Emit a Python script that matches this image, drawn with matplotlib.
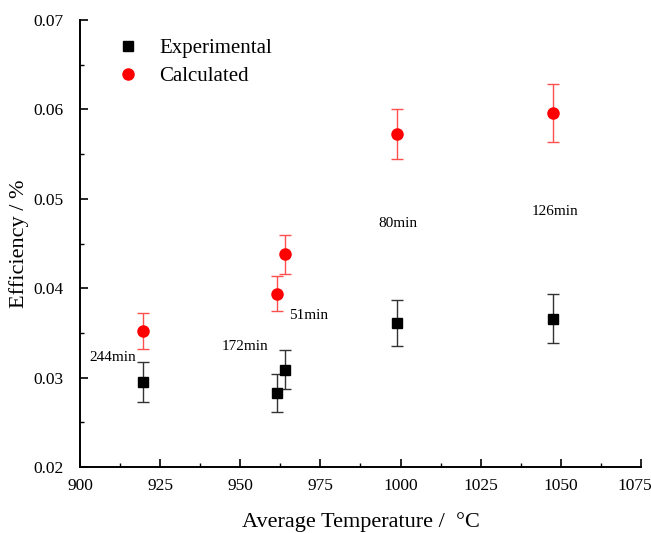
import matplotlib
matplotlib.use("Agg")
import matplotlib.pyplot as plt
import matplotlib.transforms as mtransforms
from matplotlib.ticker import MultipleLocator

plt.rcParams['font.family'] = ['Liberation Serif', 'DejaVu Serif']

exp_x = [919.8, 961.3, 963.9, 999.0, 1047.4]
exp_y = [0.0295, 0.0283, 0.0309, 0.0361, 0.0366]
exp_err = [0.0022, 0.0021, 0.0022, 0.0026, 0.0027]

calc_x = [919.8, 961.3, 963.9, 999.0, 1047.4]
calc_y = [0.0352, 0.0394, 0.0438, 0.0572, 0.0596]
calc_err = [0.0020, 0.0020, 0.0022, 0.0028, 0.0032]

labels = ["244min", "172min", "51min", "80min", "126min"]
label_x = [910.3, 951.5, 971.4, 999.2, 1048.2]
label_y = [0.0323, 0.0335, 0.0370, 0.0472, 0.0486]

x_ticks = [900, 925, 950, 975, 1000, 1025, 1050, 1075]
y_ticks = [0.02, 0.03, 0.04, 0.05, 0.06, 0.07]

fig = plt.figure(figsize=(6.51, 5.33), dpi=100)
ax = fig.add_axes([0.1229, 0.1238, 0.8617, 0.8387])

ax.errorbar(exp_x, exp_y, yerr=exp_err, fmt='none', ecolor='#333333',
            elinewidth=1.0, capsize=4.5, capthick=1.0)
ax.errorbar(calc_x, calc_y, yerr=calc_err, fmt='none', ecolor='#ff5050',
            elinewidth=1.0, capsize=4.5, capthick=1.0)
ax.plot(exp_x, exp_y, 's', color='black', markersize=7, label='Experimental')
ax.plot(calc_x, calc_y, 'o', color='#ff0000', markersize=8, label='Calculated')

for t, x, y in zip(labels, label_x, label_y):
    ax.text(x, y, t, ha='center', va='center', fontsize=11)

ax.set_xlim(900, 1075)
ax.set_ylim(0.02, 0.07)
ax.set_xticks(x_ticks)
ax.set_xticklabels([str(v) for v in x_ticks])
ax.xaxis.set_minor_locator(MultipleLocator(12.5))
ax.set_yticks(y_ticks)
ax.set_yticklabels(['%.2f' % v for v in y_ticks])
ax.yaxis.set_minor_locator(MultipleLocator(0.005))
ax.tick_params(which='major', direction='in', length=6, width=1.2, labelsize=12.5)
ax.tick_params(which='minor', direction='in', length=3, width=1.0)
ax.tick_params(axis='x', pad=8)
ax.tick_params(axis='y', pad=12)

# nudge last x tick label so it stays inside the canvas
last = ax.get_xticklabels()[-1]
last.set_transform(last.get_transform() +
                   mtransforms.ScaledTranslation(-6 / 100, 0, fig.dpi_scale_trans))

for s in ['top', 'right']:
    ax.spines[s].set_visible(False)
for s in ['left', 'bottom']:
    ax.spines[s].set_linewidth(1.4)

ax.set_xlabel('Average Temperature /  \u00b0C', fontsize=16, labelpad=13)
ax.set_ylabel('Efficiency / %', fontsize=16, labelpad=3)

leg = ax.legend(loc='upper left', bbox_to_anchor=(0.03, 1.0), frameon=False,
                fontsize=15, handletextpad=0.9, labelspacing=0.4, handlelength=1.2)

fig.savefig('out.png', dpi=100)
